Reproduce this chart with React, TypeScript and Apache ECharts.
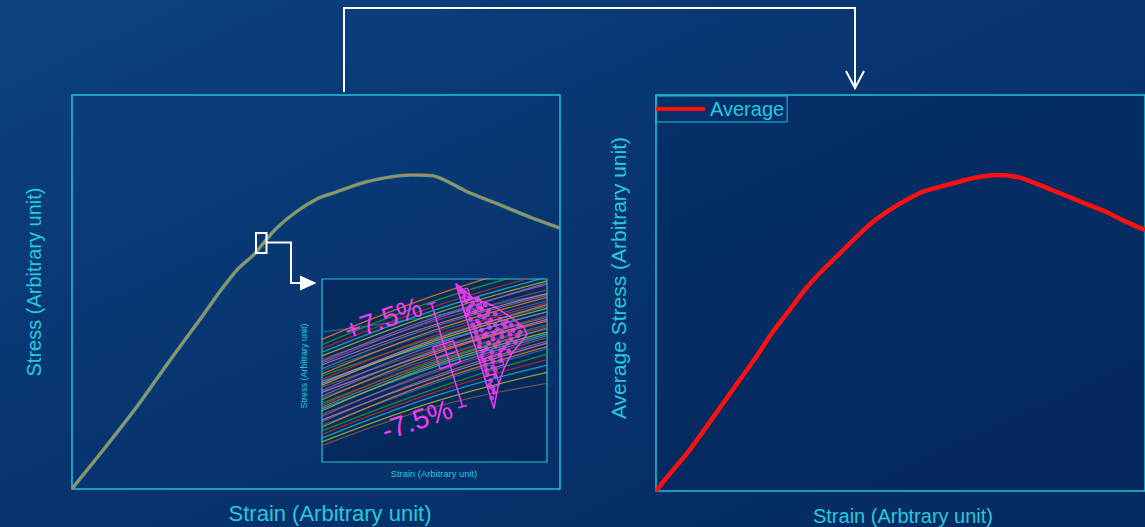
import React, { useEffect, useRef } from "react";
import * as echarts from "echarts";

// Left panel: bundle of specimen curves (drawn as a tight multicoloured band)
const strainLeft = [0, 0.06, 0.64, 1.33, 2.01, 2.69, 3.03, 3.38, 3.72, 3.89, 4.19, 4.6, 5.05, 5.35, 6.04, 6.93, 7.4, 8.09, 8.77, 9.45, 10];
const stressLeft = [0, 0.1, 0.99, 2.09, 3.27, 4.42, 5.01, 5.56, 5.94, 6.19, 6.62, 7.04, 7.38, 7.51, 7.8, 7.97, 7.95, 7.55, 7.21, 6.87, 6.62];

// Right panel: average curve
const strainAvg = [0, 0.18, 0.35, 0.69, 1.03, 1.37, 1.71, 2.05, 2.39, 2.73, 3.07, 3.41, 3.76, 4.1, 4.44, 4.78, 5.12, 5.46, 5.8, 6.14, 6.48, 6.95, 7.43, 7.84, 8.18, 8.52, 8.86, 9.2, 9.54, 10];
const stressAvg = [0, 0.28, 0.53, 1.04, 1.62, 2.21, 2.8, 3.39, 4.02, 4.57, 5.12, 5.58, 6.0, 6.42, 6.8, 7.1, 7.35, 7.56, 7.68, 7.79, 7.9, 7.98, 7.92, 7.73, 7.56, 7.39, 7.22, 7.05, 6.84, 6.59];

// Inset (zoomed window): individual specimen curves at strain 0, 5, 10
const insetStrain = [0, 5, 10];
const insetStart = [7.1, 6.7, 6.4, 6.2, 6.0, 5.8, 5.6, 5.5, 5.3, 5.1, 5.0, 4.8, 4.7, 4.5, 4.4, 4.2, 4.1, 3.9, 3.8, 3.6, 3.5, 3.4, 3.2, 3.1, 2.9, 2.8, 2.6, 2.5, 2.3, 2.2, 2.0, 1.9, 1.7, 1.5, 1.3, 1.1, 0.9, 5.4, 4.3, 3.0];
const insetMid = [8.0, 9.1, 8.8, 8.5, 8.3, 8.1, 7.7, 7.9, 7.5, 7.4, 7.1, 7.2, 6.8, 6.9, 6.5, 6.6, 6.2, 6.4, 6.0, 6.1, 5.7, 5.9, 5.5, 5.6, 5.2, 5.3, 4.9, 5.0, 4.6, 4.7, 4.3, 4.4, 4.0, 3.8, 3.6, 3.3, 3.0, 7.8, 6.7, 5.4];
const insetEnd = [9.2, 11.0, 10.6, 10.3, 10.1, 9.9, 9.4, 9.7, 9.2, 9.1, 8.8, 9.0, 8.5, 8.7, 8.2, 8.4, 8.0, 8.2, 7.8, 7.9, 7.5, 7.7, 7.3, 7.4, 7.0, 7.1, 6.8, 6.9, 6.5, 6.6, 6.2, 6.3, 5.9, 5.6, 5.3, 4.9, 4.3, 9.8, 8.6, 7.3];
const insetColors = ["#1f77b4", "#ff7f0e", "#2ca02c", "#d62728", "#17becf", "#bcbd22", "#8c564b", "#9467bd", "#e377c2", "#7f7f7f"];

// Magenta annotation (inset data units)
const errBar = [[4.865, 8.665], [6.25, 3.025]];
const errCapTop = [[4.68, 8.6], [5.05, 8.73]];
const errCapBottom = [[6.06, 2.96], [6.44, 3.09]];
const errBox = [[4.92, 6.27], [5.84, 6.63], [6.16, 5.48], [5.26, 5.08], [4.92, 6.27]];
const errMedian = [[5.07, 5.67], [5.99, 6.03]];
const violin = [[5.94, 9.77], [6.73, 8.95], [7.54, 8.58], [8.36, 7.94], [8.95, 7.39], [9.12, 6.99], [8.87, 6.57], [8.43, 5.94], [8.06, 5.03], [7.84, 4.21], [7.64, 2.93], [5.94, 9.77]];
const histBins = [
  [[6.05, 9.35], [6.2, 8.72], [6.63, 8.88], [6.47, 9.51], [6.05, 9.35]],
  [[6.2, 8.72], [6.36, 8.09], [7.12, 8.38], [6.97, 9.01], [6.2, 8.72]],
  [[6.98, 5.59], [7.14, 4.96], [8.08, 5.31], [7.92, 5.94], [6.98, 5.59]],
  [[7.22, 4.65], [7.37, 4.02], [7.88, 4.21], [7.73, 4.84], [7.22, 4.65]],
];
const violinDots = [
  [6.2, 9.3], [6.35, 9.2], [6.4, 8.8], [6.7, 8.7], [6.9, 8.85], [6.5, 8.3], [6.8, 8.2], [7.1, 8.35], [7.4, 8.25],
  [6.6, 7.8], [6.9, 7.7], [7.2, 7.9], [7.5, 7.75], [7.9, 7.8], [8.2, 7.7], [6.8, 7.3], [7.1, 7.2], [7.45, 7.35],
  [7.8, 7.25], [8.15, 7.4], [8.5, 7.2], [6.9, 6.8], [7.2, 6.9], [7.6, 6.75], [8.0, 6.85], [8.4, 6.7], [8.7, 6.9],
  [7.0, 6.3], [7.3, 6.2], [7.7, 6.35], [8.1, 6.25], [7.1, 5.8], [7.5, 5.7], [7.9, 5.85], [7.25, 5.3], [7.6, 5.2],
  [7.35, 4.8], [7.7, 4.7], [7.45, 4.2], [7.6, 4.0], [7.55, 3.5],
  [6.1, 9.5], [6.3, 9.0], [6.55, 9.0], [6.6, 8.5], [6.95, 8.5], [7.25, 8.6], [6.45, 8.05], [7.0, 8.0], [7.35, 8.05],
  [7.7, 8.1], [6.7, 7.5], [7.0, 7.55], [7.35, 7.6], [7.7, 7.5], [8.05, 7.55], [8.4, 7.5], [8.75, 7.45], [6.85, 7.05],
  [7.3, 7.0], [7.65, 7.05], [8.0, 7.1], [8.35, 7.0], [8.8, 7.1], [7.0, 6.55], [7.4, 6.5], [7.85, 6.55], [8.25, 6.5],
  [8.6, 6.55], [7.15, 6.05], [7.55, 6.0], [7.95, 6.1], [8.3, 6.05], [7.2, 5.55], [7.6, 5.5], [7.95, 5.55], [7.3, 5.05],
  [7.7, 5.0], [7.5, 4.45], [7.65, 3.8],
];

const CYAN = "#20c4d6";
const TEXT = "#25cadf";
const MAG = "#f53cf5";
const FONT = "'Liberation Sans', Arial, sans-serif";

export default function App() {
  const ref = useRef<HTMLDivElement>(null);
  useEffect(() => {
    const chart = echarts.init(ref.current!, null, { renderer: "svg" });
    const leftData = strainLeft.map((x, i) => [x, stressLeft[i]]);
    const avgData = strainAvg.map((x, i) => [x, stressAvg[i]]);
    const magLine = (data: number[][], w = 1.5) => ({
      type: "line", xAxisIndex: 1, yAxisIndex: 1, data, symbol: "none", silent: true, z: 5,
      lineStyle: { color: MAG, width: w },
    });
    const series: any[] = [];
    // left band
    [
      { c: "#3b9ca8", w: 3.6 },
      { c: "#8f9c55", w: 2.2 },
      { c: "#d07a48", w: 0.9 },
    ].forEach((s) =>
      series.push({ type: "line", xAxisIndex: 0, yAxisIndex: 0, data: leftData, symbol: "none", smooth: 0.25, silent: true, lineStyle: { color: s.c, width: s.w } })
    );
    // inset lines
    insetStart.forEach((s, i) => {
      series.push({
        type: "line", xAxisIndex: 1, yAxisIndex: 1, symbol: "none", smooth: 0.4, silent: true, clip: true,
        data: insetStrain.map((x, k) => [x, [s, insetMid[i], insetEnd[i]][k]]),
        lineStyle: { color: insetColors[i % insetColors.length], width: 1.3, opacity: 0.8 },
      });
    });
    series.push(magLine(errBar));
    series.push(magLine(errCapTop));
    series.push(magLine(errCapBottom));
    series.push(magLine(errBox));
    series.push(magLine(errMedian));
    series.push(magLine(violin));
    histBins.forEach((b) => series.push(magLine(b, 1.2)));
    series.push({
      type: "scatter", xAxisIndex: 1, yAxisIndex: 1, data: violinDots, symbolSize: 5, silent: true, z: 6,
      itemStyle: { color: MAG },
    });
    // average
    series.push({
      name: "Average", type: "line", xAxisIndex: 2, yAxisIndex: 2, data: avgData, symbol: "none", smooth: 0.25,
      lineStyle: { color: "#ff1010", width: 4.5 }, itemStyle: { color: "#ff1010" },
    });

    const axis = (i: number) => ({ type: "value", gridIndex: i, min: 0, max: 10, show: false });
    const option: any = {
      animation: false,
      backgroundColor: {
        type: "linear", x: 0, y: 0, x2: 1, y2: 1,
        colorStops: [
          { offset: 0, color: "#0c4280" },
          { offset: 0.5, color: "#07346e" },
          { offset: 1, color: "#052a60" },
        ],
      },
      grid: [
        { left: 72, top: 95, width: 488, height: 394, show: true, borderColor: CYAN, borderWidth: 1.5, backgroundColor: "transparent" },
        { left: 322, top: 279, width: 225, height: 183, show: true, borderColor: CYAN, borderWidth: 1.2, backgroundColor: "rgba(3,34,82,0.55)" },
        { left: 656, top: 95, width: 490, height: 396, show: true, borderColor: CYAN, borderWidth: 1.5, backgroundColor: "rgba(3,32,82,0.3)" },
      ],
      xAxis: [axis(0), axis(1), axis(2)],
      yAxis: [axis(0), axis(1), axis(2)],
      legend: {
        data: [{ name: "Average", icon: "rect" }],
        left: 656, top: 96, itemWidth: 49, itemHeight: 4, itemGap: 5,
        padding: [3, 3, 3, 0], borderColor: CYAN, borderWidth: 1, borderRadius: 0,
        selectedMode: false,
        textStyle: { color: TEXT, fontSize: 20, fontFamily: FONT },
      },
      series,
      graphic: [
        { type: "polyline", shape: { points: [[344, 92], [344, 8], [855, 8], [855, 88]] }, style: { stroke: "#ffffff", lineWidth: 2, fill: "none" }, z: 50 },
        { type: "polyline", shape: { points: [[846, 71], [855, 88], [864, 71]] }, style: { stroke: "#ffffff", lineWidth: 2, fill: "none" }, z: 50 },
        { type: "rect", shape: { x: 256, y: 233, width: 10.5, height: 20 }, style: { stroke: "#ffffff", lineWidth: 2, fill: "none" }, z: 50 },
        { type: "polyline", shape: { points: [[267, 242.5], [291, 242.5], [291, 283], [301, 283]] }, style: { stroke: "#ffffff", lineWidth: 2, fill: "none" }, z: 50 },
        { type: "polygon", shape: { points: [[300, 275.5], [316.5, 283], [300, 290.5]] }, style: { fill: "#ffffff" }, z: 50 },
        { type: "text", x: 34, y: 282, rotation: Math.PI / 2, z: 50, style: { text: "Stress (Arbitrary unit)", fill: TEXT, font: `20px ${FONT}`, textAlign: "center", textVerticalAlign: "middle" } },
        { type: "text", x: 330, y: 513, z: 50, style: { text: "Strain (Arbitrary unit)", fill: TEXT, font: `22px ${FONT}`, textAlign: "center", textVerticalAlign: "middle" } },
        { type: "text", x: 618, y: 278, rotation: Math.PI / 2, z: 50, style: { text: "Average Stress (Arbitrary unit)", fill: TEXT, font: `21px ${FONT}`, textAlign: "center", textVerticalAlign: "middle" } },
        { type: "text", x: 903, y: 516, z: 50, style: { text: "Strain (Arbtrary unit)", fill: TEXT, font: `20px ${FONT}`, textAlign: "center", textVerticalAlign: "middle" } },
        { type: "text", x: 304, y: 366, rotation: Math.PI / 2, z: 50, style: { text: "Stress (Arbitrary unit)", fill: TEXT, font: `9px ${FONT}`, textAlign: "center", textVerticalAlign: "middle" } },
        { type: "text", x: 434, y: 473, z: 50, style: { text: "Strain (Arbitrary unit)", fill: TEXT, font: `9.4px ${FONT}`, textAlign: "center", textVerticalAlign: "middle" } },
        { type: "text", x: 383, y: 319, rotation: 0.33, z: 60, style: { text: "+7.5%", fill: MAG, font: `28px ${FONT}`, textAlign: "center", textVerticalAlign: "middle" } },
        { type: "text", x: 417, y: 420, rotation: 0.33, z: 60, style: { text: "-7.5%", fill: MAG, font: `28px ${FONT}`, textAlign: "center", textVerticalAlign: "middle" } },
      ],
    };
    chart.setOption(option);
    return () => chart.dispose();
  }, []);
  return <div ref={ref} style={{ position: "absolute", left: 0, top: 0, width: 1145, height: 527 }} />;
}
